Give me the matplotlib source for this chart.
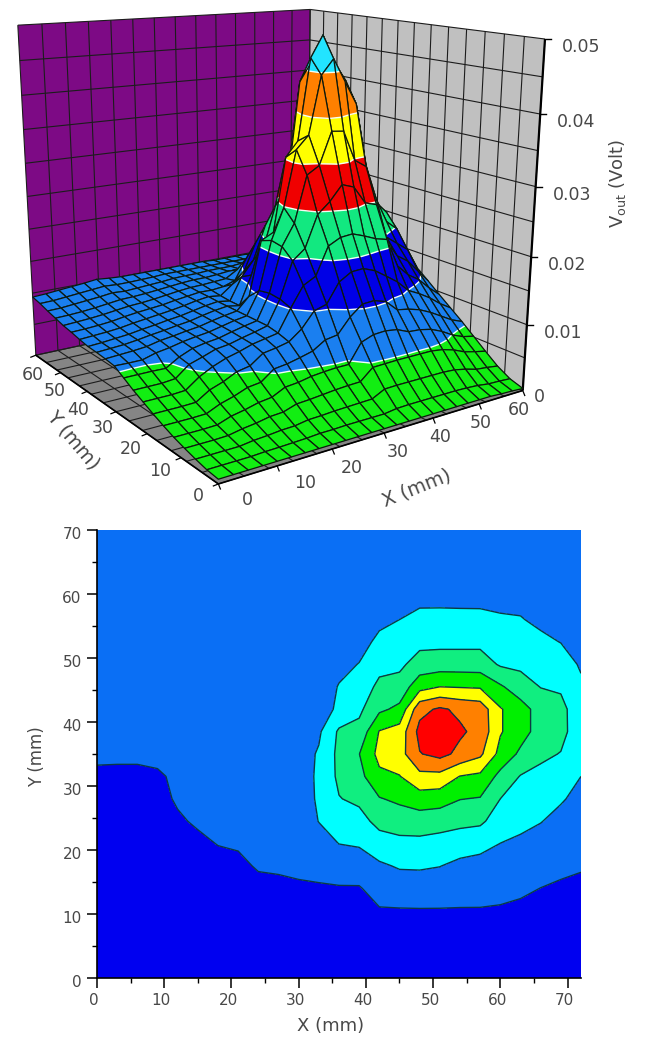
"""
Two views of the measured output voltage over the sensor plane:
a 3D banded surface on top and a filled contour map below.
"""
import matplotlib
matplotlib.use('Agg')
import matplotlib.pyplot as plt
import numpy as np
from matplotlib.collections import PolyCollection
from matplotlib.transforms import ScaledTranslation

# ── Data ─────────────────────────────────────────────────────────────
# contour-map axes (mm); one row of V_BANDS per Y_MM value
X_MM = [0, 3, 6, 9, 12, 15, 18, 21, 24, 27, 30, 33, 36, 39, 42, 45, 48, 51, 54, 57, 60, 63, 66, 69, 72]
Y_MM = [0, 3.5, 7, 10.5, 14, 17.5, 21, 24.5, 28, 31.5, 35, 38.5, 42, 45.5, 49, 52.5, 56, 59.5, 63, 66.5, 70]

# voltage in units of one colour band
V_BANDS = [
    [.1, .1, .1, .1, .1, .1, .1, .1, .1, .1, .1, .1, .1, .1, .1, .1, .1, .1, .1, .1, .1, .1, .08, .07, .05],
    [.13, .13, .13, .13, .145, .15, .16, .17, .19, .19, .2, .2, .2, .2, .24, .25, .25, .25, .25, .25, .24, .22, .18, .17, .15],
    [.19, .19, .19, .19, .23, .25, .28, .29, .34, .35, .37, .38, .39, .4, .55, .56, .56, .56, .56, .56, .54, .48, .4, .37, .33],
    [.26, .26, .26, .27, .33, .37, .43, .45, .55, .57, .6, .63, .65, .66, .92, .93, .94, .94, .94, .94, .9, .82, .7, .63, .57],
    [.34, .34, .34, .35, .46, .52, .6, .64, .79, .82, .88, .91, .93, .93, 1.38, 1.49, 1.51, 1.47, 1.35, 1.33, 1.27, 1.15, .99, .88, .82],
    [.44, .44, .44, .45, .59, .68, .8, .84, 1.07, 1.11, 1.18, 1.26, 1.45, 1.5, 1.85, 2.09, 2.11, 2.02, 1.76, 1.71, 1.63, 1.5, 1.34, 1.18, 1.07],
    [.55, .55, .55, .56, .76, .87, 1.02, 1.08, 1.3, 1.35, 1.42, 1.65, 2.01, 2.1, 2.56, 2.74, 2.76, 2.65, 2.46, 2.26, 1.99, 1.85, 1.68, 1.47, 1.3],
    [.67, .67, .67, .69, .92, 1.08, 1.2, 1.28, 1.38, 1.44, 1.5, 2.02, 2.49, 2.65, 3.3, 3.45, 3.48, 3.38, 3.26, 3.19, 2.49, 2.21, 2.03, 1.76, 1.53],
    [.79, .79, .79, .82, 1.07, 1.17, 1.28, 1.32, 1.4, 1.47, 1.55, 2.12, 2.96, 3.2, 3.94, 4.2, 4.55, 4.45, 4.03, 3.94, 3, 2.58, 2.39, 2.08, 1.77],
    [.93, .93, .93, .92, 1.11, 1.24, 1.3, 1.34, 1.42, 1.49, 1.55, 2.15, 3.2, 3.7, 4.78, 4.96, 5.72, 5.69, 4.97, 4.78, 3.71, 2.95, 2.74, 2.53, 2],
    [1.07, 1.06, 1.06, 1.15, 1.2, 1.27, 1.32, 1.36, 1.43, 1.5, 1.55, 2.1, 3.25, 3.98, 5.3, 5.6, 6.95, 7.3, 6.75, 6.2, 4.68, 3.81, 3.2, 2.96, 2.3],
    [1.1, 1.12, 1.14, 1.17, 1.24, 1.28, 1.33, 1.37, 1.44, 1.5, 1.55, 1.85, 3.15, 3.3, 5.05, 5.4, 7.3, 7.8, 7.15, 6.7, 5.08, 4.4, 3.6, 3.3, 2.4],
    [1.12, 1.14, 1.16, 1.2, 1.25, 1.29, 1.34, 1.38, 1.45, 1.51, 1.55, 1.5, 2.2, 2.8, 3.8, 4.23, 6.7, 7.15, 6.8, 6.6, 5.08, 4.4, 3.6, 3.3, 2.35],
    [1.13, 1.15, 1.18, 1.21, 1.26, 1.3, 1.35, 1.39, 1.45, 1.51, 1.55, 1.5, 2.05, 2.42, 3.23, 3.38, 4.63, 5, 4.94, 4.89, 4.13, 3.47, 2.97, 2.86, 2.15],
    [1.17, 1.19, 1.21, 1.24, 1.29, 1.33, 1.37, 1.41, 1.46, 1.52, 1.56, 1.52, 1.75, 2.03, 2.7, 2.8, 3.42, 3.51, 3.51, 3.49, 2.89, 2.79, 2.57, 2.42, 1.9],
    [1.22, 1.23, 1.25, 1.28, 1.33, 1.37, 1.4, 1.43, 1.48, 1.52, 1.56, 1.55, 1.58, 1.68, 2.2, 2.4, 2.74, 2.75, 2.75, 2.76, 2.49, 2.42, 2.19, 1.98, 1.65],
    [1.26, 1.28, 1.3, 1.33, 1.37, 1.41, 1.43, 1.46, 1.5, 1.54, 1.57, 1.58, 1.6, 1.62, 1.8, 2, 2.21, 2.22, 2.2, 2.19, 2.1, 2.05, 1.82, 1.7, 1.5],
    [1.32, 1.33, 1.35, 1.38, 1.42, 1.46, 1.47, 1.49, 1.52, 1.55, 1.58, 1.6, 1.6, 1.62, 1.65, 1.65, 1.8, 1.8, 1.8, 1.8, 1.75, 1.75, 1.55, 1.5, 1.45],
    [1.38, 1.39, 1.42, 1.45, 1.48, 1.52, 1.5, 1.52, 1.54, 1.56, 1.59, 1.6, 1.6, 1.62, 1.62, 1.62, 1.65, 1.65, 1.65, 1.65, 1.62, 1.6, 1.5, 1.45, 1.4],
    [1.45, 1.46, 1.49, 1.52, 1.55, 1.58, 1.56, 1.56, 1.57, 1.58, 1.6, 1.6, 1.6, 1.6, 1.6, 1.6, 1.6, 1.6, 1.6, 1.6, 1.58, 1.55, 1.48, 1.42, 1.38],
    [1.5, 1.52, 1.55, 1.58, 1.61, 1.65, 1.62, 1.6, 1.6, 1.6, 1.6, 1.6, 1.6, 1.6, 1.6, 1.58, 1.58, 1.58, 1.58, 1.58, 1.55, 1.52, 1.45, 1.4, 1.35],
]

BAND_VOLT = 0.00625
BAND_EDGES = [1, 2, 3, 4, 5, 6, 7]

SURF_COLORS = ['#12ee12', '#1a7ff0', '#0000e6', '#12e880', '#f00000', '#ffff00', '#ff8000', '#22e4ff']
MAP_COLORS = ['#0000f0', '#0a6ff5', '#00ffff', '#10ee80', '#00f000', '#ffff00', '#ff8000', '#ff0000']

TICKS_3D = [0, 10, 20, 30, 40, 50, 60]
TICKS_Z = [0.01, 0.02, 0.03, 0.04, 0.05]
TICKS_X2D = [0, 10, 20, 30, 40, 50, 60, 70]
TICKS_Y2D = [0, 10, 20, 30, 40, 50, 60, 70]

TEXT = '#484848'

# ── Camera of the 3D panel, fitted on the box corners (image pixels) ──
BOX_CORNERS = [
    ((0, 0, 0), (218, 487)), ((60, 0, 0), (523, 387)), ((0, 60, 0), (36, 352)),
    ((60, 60, 0), (307, 300)), ((0, 60, .05), (18, 26)), ((60, 60, .05), (310, 8)),
    ((60, 0, .05), (545, 40)),
]


def fit_camera(corners):
    rows = []
    for (x, y, z), (u, v) in corners:
        p = [x / 60, y / 60, z / .05, 1]
        rows.append(p + [0, 0, 0, 0] + [-u * c for c in p])
        rows.append([0, 0, 0, 0] + p + [-v * c for c in p])
    _, _, vt = np.linalg.svd(np.array(rows, float))
    return vt[-1].reshape(3, 4)


CAM = fit_camera(BOX_CORNERS)


def project(pts):
    pts = np.atleast_2d(pts).astype(float)
    h = np.c_[pts[:, 0] / 60, pts[:, 1] / 60, pts[:, 2] / .05, np.ones(len(pts))] @ CAM.T
    return h[:, :2] / h[:, 2:], np.abs(h[:, 2])


def clip_z(poly, level, keep_above):
    """One Sutherland-Hodgman pass against the plane z = level."""
    out = []
    for i, p in enumerate(poly):
        q = poly[(i + 1) % len(poly)]
        p_in = (p[2] >= level) == keep_above
        q_in = (q[2] >= level) == keep_above
        if p_in:
            out.append(p)
        if p_in != q_in:
            t = (level - p[2]) / (q[2] - p[2])
            out.append(tuple(a + t * (b - a) for a, b in zip(p, q)))
    return out


def level_segment(poly, level):
    hits = []
    for i, p in enumerate(poly):
        q = poly[(i + 1) % len(poly)]
        if (p[2] >= level) != (q[2] >= level):
            t = (level - p[2]) / (q[2] - p[2])
            hits.append(tuple(a + t * (b - a) for a, b in zip(p, q)))
    return hits[:2] if len(hits) >= 2 else None


def line3(ax, a, b, **kw):
    xy, _ = project([a, b])
    ax.plot(xy[:, 0], xy[:, 1], solid_capstyle='butt', **kw)


def draw_box(ax):
    corner = lambda x, y, z: project([(x, y, z)])[0][0]
    ax.fill(*zip(corner(0, 60, 0), corner(60, 60, 0), corner(60, 60, .05), corner(0, 60, .05)),
            color='#7d0a85', lw=0)
    ax.fill(*zip(corner(60, 60, 0), corner(60, 0, 0), corner(60, 0, .05), corner(60, 60, .05)),
            color='#c0c0c0', lw=0)
    ax.fill(*zip(corner(0, 0, 0), corner(60, 0, 0), corner(60, 60, 0), corner(0, 60, 0)),
            color='#858585', lw=0)

    grid = dict(color='#1c1c1c', lw=0.8)
    for t in np.linspace(0, 60, 15):
        line3(ax, (t, 60, 0), (t, 60, .05), **grid)
        line3(ax, (60, t, 0), (60, t, .05), **grid)
        line3(ax, (t, 0, 0), (t, 60, 0), **grid)
        line3(ax, (0, t, 0), (60, t, 0), **grid)
    for z in np.linspace(0, .05, 11):
        line3(ax, (0, 60, z), (60, 60, z), **grid)
        line3(ax, (60, 60, z), (60, 0, z), **grid)
    line3(ax, (60, 0, 0), (60, 0, .05), color='black', lw=1.6)
    line3(ax, (0, 0, 0), (60, 0, 0), color='black', lw=1.2)
    line3(ax, (0, 0, 0), (0, 60, 0), color='black', lw=1.2)


def draw_surface(ax):
    xs = np.array(X_MM) * 60 / 72
    ys = np.array(Y_MM) * 60 / 70
    zz = np.array(V_BANDS) * BAND_VOLT
    levels = [0] + [e * BAND_VOLT for e in BAND_EDGES] + [1]

    cells = []
    for j in range(len(ys) - 1):
        for i in range(len(xs) - 1):
            quad = [(xs[i], ys[j], zz[j, i]), (xs[i + 1], ys[j], zz[j, i + 1]),
                    (xs[i + 1], ys[j + 1], zz[j + 1, i + 1]), (xs[i], ys[j + 1], zz[j + 1, i])]
            cells.append((project(quad)[1].mean(), quad))
    cells.sort(key=lambda c: -c[0])  # painter's order, far cells first

    verts, faces, edges, widths = [], [], [], []
    for _, quad in cells:
        for b, color in enumerate(SURF_COLORS):
            piece = clip_z(quad, levels[b], True)
            if piece:
                piece = clip_z(piece, levels[b + 1], False)
            if len(piece) >= 3:
                verts.append(project(piece)[0])
                faces.append(color); edges.append(color); widths.append(0.3)
        for lev in levels[1:-1]:
            seg = level_segment(quad, lev)
            if seg:
                verts.append(project(seg)[0])
                faces.append('none'); edges.append('#f4fff4'); widths.append(1.0)
        verts.append(project(quad)[0])
        faces.append('none'); edges.append('#0c180c'); widths.append(0.9)
    # zorder above the box lines, which are Line2D artists
    ax.add_collection(PolyCollection(verts, facecolors=faces, edgecolors=edges,
                                     linewidths=widths, zorder=3))


# ── Figure ───────────────────────────────────────────────────────────
fig = plt.figure(figsize=(6.48, 10.38), dpi=100)
plt.rcParams['font.family'] = ['DejaVu Sans']

top = fig.add_axes((0, 0, 1, 1))
top.set_xlim(0, 648); top.set_ylim(1038, 0); top.axis('off')
draw_box(top)
draw_surface(top)

# z ticks and labels
for z in TICKS_Z:
    (u, v), = project([(60, 0, z)])[0]
    top.plot([u, u + 6], [v, v], color='black', lw=1)
    top.text(u + 36, v + 8, f'{z:.2f}', color=TEXT, fontsize=12.5, ha='center', va='center')
top.text(539, 397, '0', color=TEXT, fontsize=12.5, ha='center', va='center')

X_LABEL_POS = [(247, 500), (305, 483), (352, 468), (398, 452), (440, 437), (481, 423), (519, 410)]
Y_LABEL_POS = [(198, 496), (160, 471), (131, 449), (103, 428), (78, 410), (55, 391), (33, 375)]
for t, (lx, ly), (mx, my) in zip(TICKS_3D, X_LABEL_POS, Y_LABEL_POS):
    top.text(lx, ly, str(t), color=TEXT, fontsize=12.5, ha='center', va='center')
    top.text(mx, my, str(t), color=TEXT, fontsize=12.5, ha='center', va='center')
    (u, v), = project([(t, 0, 0)])[0]
    top.plot([u, u + 2], [v, v + 5], color='black', lw=0.9)
    (u, v), = project([(0, t, 0)])[0]
    top.plot([u, u - 5], [v, v + 2], color='black', lw=0.9)

top.text(73, 440, 'Y (mm)', color=TEXT, fontsize=14, rotation=-50, ha='center', va='center')
top.text(417, 488, 'X (mm)', color=TEXT, fontsize=14, rotation=22, ha='center', va='center')
top.text(618, 183, r'V$_{\mathrm{out}}$ (Volt)', color=TEXT, fontsize=13, rotation=90, ha='center', va='center')

# contour map
ax = fig.add_axes((97 / 648, 60 / 1038, 484 / 648, 448 / 1038))
ax.contourf(X_MM, Y_MM, V_BANDS, levels=[-1] + BAND_EDGES + [9], colors=MAP_COLORS)
ax.contour(X_MM, Y_MM, V_BANDS, levels=BAND_EDGES, colors='#0c3a44', linewidths=1.0)
ax.set_xlim(0, 72); ax.set_ylim(0, 70)
ax.spines[['top', 'right']].set_visible(False)
ax.spines[['left', 'bottom']].set_linewidth(1.2)
ax.set_xticks(TICKS_X2D); ax.set_yticks(TICKS_Y2D)
ax.set_xticks(np.arange(5, 75, 10), minor=True)
ax.set_yticks(np.arange(5, 75, 10), minor=True)
ax.tick_params(length=7, width=1.1, labelsize=11, labelcolor=TEXT, pad=4)
ax.tick_params(which='minor', length=3.5, width=1.0)
ax.set_xlabel('X (mm)', color=TEXT, fontsize=13)
ax.set_ylabel('Y (mm)', color=TEXT, fontsize=12)
ax.xaxis.set_label_coords((331 - 97) / 484, -39 / 448)
ax.yaxis.set_label_coords((46 - 97) / 484, (978 - 757) / 448)

# the original's tick labels sit a few pixels left of / below their ticks
for lab in ax.get_xticklabels():
    lab.set_transform(lab.get_transform() + ScaledTranslation(-3 / 100, 0, fig.dpi_scale_trans))
for lab in ax.get_yticklabels():
    lab.set_transform(lab.get_transform() + ScaledTranslation(0, -3 / 100, fig.dpi_scale_trans))

fig.savefig('out.png', dpi=100)
